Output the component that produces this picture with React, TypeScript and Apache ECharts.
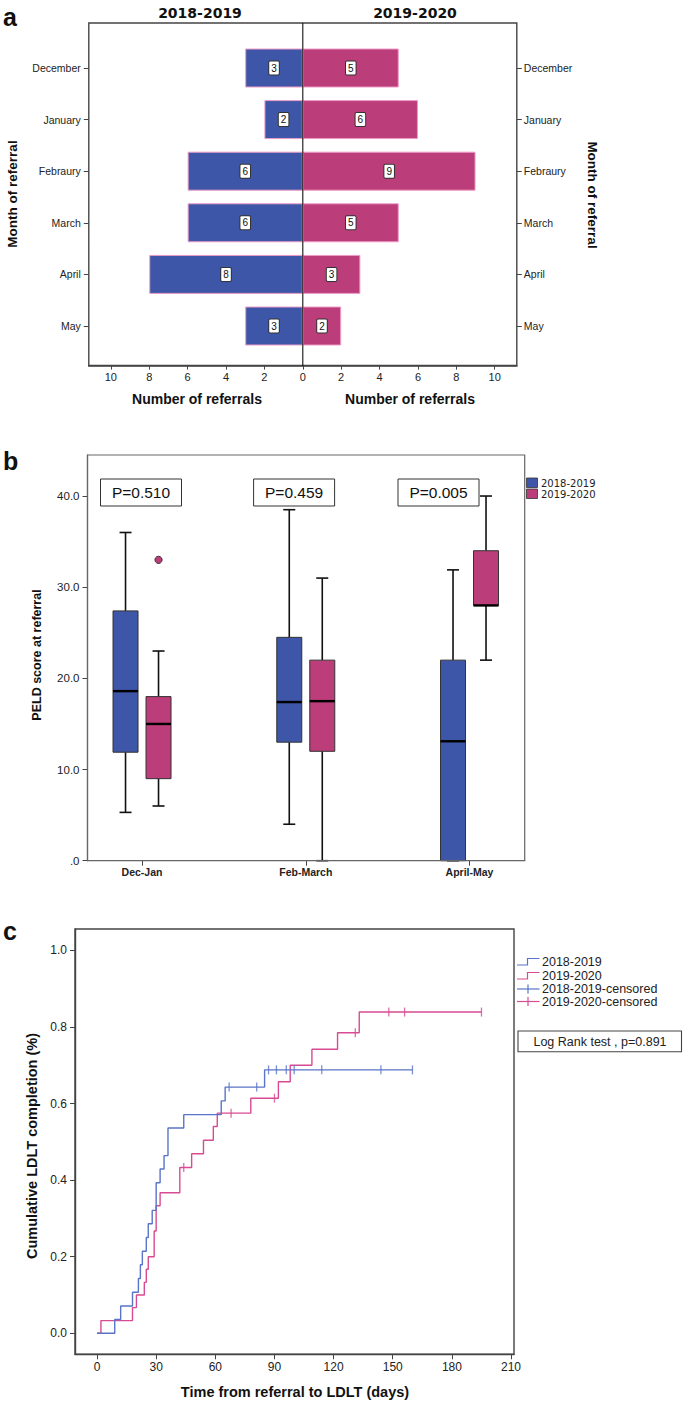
import React, { useEffect, useRef } from "react";
import * as echarts from "echarts";

// ---------- Panel a: referrals per month ----------
const months = ["December", "January", "Febraury", "March", "April", "May"];
const referrals2018 = [3, 2, 6, 6, 8, 3];
const referrals2019 = [5, 6, 9, 5, 3, 2];
const referralTicksLeft = [2, 4, 6, 8, 10];
const referralTicksRight = [0, 2, 4, 6, 8, 10];

// ---------- Panel b: PELD boxplots ----------
const periods = ["Dec-Jan", "Feb-March", "April-May"];
// [min, q1, median, q3, max]
const peld2018 = [
  [5.3, 11.9, 18.6, 27.4, 36.0],
  [4.0, 13.0, 17.4, 24.5, 38.5],
  [0.0, 0.0, 13.1, 22.0, 31.9],
];
const peld2019 = [
  [6.0, 9.0, 15.0, 18.0, 23.0],
  [0.0, 12.0, 17.5, 22.0, 31.0],
  [22.0, 28.0, 28.0, 34.0, 40.0],
];
const peldOutliers2019 = [[0, 33.0]];
const pValues = ["P=0.510", "P=0.459", "P=0.005"];
const peldTicks = [0, 10, 20, 30, 40];

// ---------- Panel c: Kaplan-Meier ----------
const blueEventDays = [9, 12, 18, 21, 22, 23, 25, 26, 28, 30, 32, 34, 36, 44, 63, 65, 85];
const blueEventLevels = [0.036, 0.071, 0.107, 0.143, 0.179, 0.214, 0.25, 0.286, 0.321, 0.393, 0.429, 0.464, 0.536, 0.571, 0.607, 0.643, 0.688];
const blueCensorDays = [67, 81, 87, 91, 96, 100, 114, 144, 160];
const pinkEventDays = [2, 18, 20, 24, 25, 26, 29, 30, 32, 42, 48, 54, 59, 61, 78, 92, 98, 109, 122, 133];
const pinkEventLevels = [0.033, 0.067, 0.1, 0.133, 0.167, 0.2, 0.267, 0.333, 0.367, 0.433, 0.469, 0.504, 0.54, 0.575, 0.614, 0.657, 0.7, 0.742, 0.785, 0.839];
const pinkCensorDays = [44, 68, 90, 131, 148, 156, 195];
const dayTicks = [0, 30, 60, 90, 120, 150, 180, 210];
const cumTicks = [0, 0.2, 0.4, 0.6, 0.8, 1.0];

const FONT = "'Liberation Sans', Arial, sans-serif";
const BLUE_A = "#3E56A7";
const PINK_A = "#BB3D79";
const BLUE_C = "#5A74C8";
const PINK_C = "#D84B92";

function kmSteps(days: number[], levels: number[], endDay: number) {
  const pts: number[][] = [[0, 0]];
  let prev = 0;
  days.forEach((d, i) => {
    pts.push([d, prev]);
    pts.push([d, levels[i]]);
    prev = levels[i];
  });
  pts.push([endDay, prev]);
  return pts;
}
function levelAt(days: number[], levels: number[], t: number) {
  let v = 0;
  days.forEach((d, i) => {
    if (d <= t) v = levels[i];
  });
  return v;
}

function boxRenderer(offsetPx: number, color: string) {
  return (params: any, api: any) => {
    const cat = api.value(0);
    const cx = api.coord([cat, 0])[0] + offsetPx;
    const yMin = api.coord([cat, api.value(1)])[1];
    const yQ1 = api.coord([cat, api.value(2)])[1];
    const yMed = api.coord([cat, api.value(3)])[1];
    const yQ3 = api.coord([cat, api.value(4)])[1];
    const yMax = api.coord([cat, api.value(5)])[1];
    const hw = 12.5;
    const cap = 6;
    const wStyle = { stroke: "#111", lineWidth: 1.6 };
    return {
      type: "group",
      children: [
        { type: "line", shape: { x1: cx, y1: yQ3, x2: cx, y2: yMax }, style: wStyle },
        { type: "line", shape: { x1: cx, y1: yQ1, x2: cx, y2: yMin }, style: wStyle },
        { type: "line", shape: { x1: cx - cap, y1: yMax, x2: cx + cap, y2: yMax }, style: wStyle },
        { type: "line", shape: { x1: cx - cap, y1: yMin, x2: cx + cap, y2: yMin }, style: wStyle },
        {
          type: "rect",
          shape: { x: cx - hw, y: yQ3, width: hw * 2, height: yQ1 - yQ3 },
          style: { fill: color, stroke: "#333", lineWidth: 1 },
        },
        { type: "line", shape: { x1: cx - hw, y1: yMed, x2: cx + hw, y2: yMed }, style: { stroke: "#000", lineWidth: 2.4 } },
      ],
    };
  };
}

function txt(x: number, y: number, text: string, size: number, opts: any = {}) {
  return {
    type: "text",
    x,
    y,
    rotation: opts.rotation || 0,
    style: {
      text,
      fontSize: size,
      fontWeight: opts.bold ? "bold" : "normal",
      fontFamily: opts.font || FONT,
      fill: opts.color || "#111",
      align: opts.align || "center",
      verticalAlign: "middle",
    },
  };
}

export default function App() {
  const ref = useRef<HTMLDivElement>(null);

  useEffect(() => {
    if (!ref.current) return;
    const chart = echarts.init(ref.current, undefined, { renderer: "svg" });

    const labelStyle = {
      show: true,
      position: "inside",
      formatter: "{c}",
      backgroundColor: "#fff",
      borderColor: "#333",
      borderWidth: 1,
      borderRadius: 1,
      padding: [2, 2, 1, 2],
      fontSize: 10,
      fontFamily: FONT,
      color: "#111",
    };

    const blueSteps = kmSteps(blueEventDays, blueEventLevels, blueCensorDays[blueCensorDays.length - 1]);
    const pinkSteps = kmSteps(pinkEventDays, pinkEventLevels, pinkCensorDays[pinkCensorDays.length - 1]);
    const blueCensor = blueCensorDays.map((d) => [d, levelAt(blueEventDays, blueEventLevels, d)]);
    const pinkCensor = pinkCensorDays.map((d) => [d, levelAt(pinkEventDays, pinkEventLevels, d)]);

    const frame = (x: number, y: number, w: number, h: number, color: string, lw: number) => ({
      type: "rect",
      shape: { x, y, width: w, height: h },
      style: { fill: "none", stroke: color, lineWidth: lw },
      z: 10,
    });

    const option: any = {
      animation: false,
      backgroundColor: "#fff",
      grid: [
        { left: 88.8, top: 42.2, width: 214, height: 309.6 },
        { left: 302.8, top: 42.2, width: 214, height: 309.6 },
        { left: 87.5, top: 455, width: 437.2, height: 405.7 },
        { left: 75, top: 929, width: 439, height: 425.3 },
      ],
      xAxis: [
        {
          gridIndex: 0,
          type: "value",
          min: 0,
          max: 11.15,
          inverse: true,
          position: "bottom",
          offset: 13.8,
          axisLine: { show: true, onZero: false, lineStyle: { color: "#444", width: 1.3 } },
          axisTick: { show: true, customValues: referralTicksLeft, length: 4, lineStyle: { color: "#444" } },
          axisLabel: { customValues: referralTicksLeft, fontSize: 11, fontFamily: FONT, color: "#222", margin: 6 },
          splitLine: { show: false },
        },
        {
          gridIndex: 1,
          type: "value",
          min: 0,
          max: 11.15,
          position: "bottom",
          offset: 13.8,
          axisLine: { show: true, onZero: false, lineStyle: { color: "#444", width: 1.3 } },
          axisTick: { show: true, customValues: referralTicksRight, length: 4, lineStyle: { color: "#444" } },
          axisLabel: { customValues: referralTicksRight, fontSize: 11, fontFamily: FONT, color: "#222", margin: 6 },
          splitLine: { show: false },
        },
        {
          gridIndex: 2,
          type: "value",
          min: -0.333,
          max: 2.337,
          axisLine: { show: true, onZero: false, lineStyle: { color: "#555", width: 1.2 } },
          axisTick: { show: true, customValues: [0, 1, 2], length: 5, lineStyle: { color: "#444" } },
          axisLabel: {
            customValues: [0, 1, 2],
            formatter: (v: number) => periods[Math.round(v)] || "",
            fontSize: 10.5,
            fontWeight: "bold",
            fontFamily: FONT,
            color: "#222",
            margin: 6,
          },
          splitLine: { show: false },
        },
        {
          gridIndex: 3,
          type: "value",
          min: -11.16,
          max: 211.5,
          axisLine: { show: true, onZero: false, lineStyle: { color: "#444", width: 1.4 } },
          axisTick: { show: true, customValues: dayTicks, length: 5, lineStyle: { color: "#444" } },
          axisLabel: { customValues: dayTicks, fontSize: 12, fontFamily: FONT, color: "#222", margin: 7 },
          splitLine: { show: false },
        },
      ],
      yAxis: [
        {
          gridIndex: 0,
          type: "category",
          data: months,
          inverse: true,
          position: "left",
          axisLine: { show: false, onZero: false },
          axisTick: { show: true, alignWithLabel: true, length: 5, lineStyle: { color: "#444" } },
          axisLabel: { fontSize: 10.5, fontFamily: FONT, color: "#222", margin: 8 },
        },
        {
          gridIndex: 1,
          type: "category",
          data: months,
          inverse: true,
          position: "right",
          axisLine: { show: false, onZero: false },
          axisTick: { show: true, alignWithLabel: true, length: 5, lineStyle: { color: "#444" } },
          axisLabel: { fontSize: 10.5, fontFamily: FONT, color: "#222", margin: 7 },
        },
        {
          gridIndex: 2,
          type: "value",
          min: 0,
          max: 44.5,
          axisLine: { show: true, onZero: false, lineStyle: { color: "#555", width: 1.2 } },
          axisTick: { show: true, customValues: peldTicks, length: 5, lineStyle: { color: "#444" } },
          axisLabel: {
            customValues: peldTicks,
            formatter: (v: number) => (v === 0 ? ".0" : v.toFixed(1)),
            fontSize: 11.5,
            fontFamily: FONT,
            color: "#222",
            margin: 8,
          },
          splitLine: { show: false },
        },
        {
          gridIndex: 3,
          type: "value",
          min: -0.055,
          max: 1.056,
          axisLine: { show: true, onZero: false, lineStyle: { color: "#444", width: 1.4 } },
          axisTick: { show: true, customValues: cumTicks, length: 5, lineStyle: { color: "#444" } },
          axisLabel: {
            customValues: cumTicks,
            formatter: (v: number) => v.toFixed(1),
            fontSize: 12,
            fontFamily: FONT,
            color: "#222",
            margin: 8,
          },
          splitLine: { show: false },
        },
      ],
      series: [
        {
          name: "2018-2019",
          type: "bar",
          xAxisIndex: 0,
          yAxisIndex: 0,
          data: referrals2018,
          barWidth: 39,
          itemStyle: { color: BLUE_A, borderColor: "#EE9CC6", borderWidth: 1 },
          label: labelStyle,
        },
        {
          name: "2019-2020",
          type: "bar",
          xAxisIndex: 1,
          yAxisIndex: 1,
          data: referrals2019,
          barWidth: 39,
          itemStyle: { color: PINK_A, borderColor: "#EE9CC6", borderWidth: 1 },
          label: labelStyle,
        },
        {
          name: "PELD 2018-2019",
          type: "custom",
          xAxisIndex: 2,
          yAxisIndex: 2,
          renderItem: boxRenderer(-16.5, BLUE_A),
          encode: { x: 0, y: [1, 2, 3, 4, 5] },
          data: peld2018.map((b, i) => [i, ...b]),
          z: 3,
        },
        {
          name: "PELD 2019-2020",
          type: "custom",
          xAxisIndex: 2,
          yAxisIndex: 2,
          renderItem: boxRenderer(16.5, PINK_A),
          encode: { x: 0, y: [1, 2, 3, 4, 5] },
          data: peld2019.map((b, i) => [i, ...b]),
          z: 3,
        },
        {
          name: "PELD outliers",
          type: "custom",
          xAxisIndex: 2,
          yAxisIndex: 2,
          renderItem: (params: any, api: any) => {
            const p = api.coord([api.value(0), api.value(1)]);
            return {
              type: "circle",
              shape: { cx: p[0] + 16.5, cy: p[1], r: 3.6 },
              style: { fill: PINK_A, stroke: "#333", lineWidth: 1 },
            };
          },
          encode: { x: 0, y: 1 },
          data: peldOutliers2019,
          z: 4,
        },
        {
          name: "KM 2018-2019",
          type: "line",
          xAxisIndex: 3,
          yAxisIndex: 3,
          data: blueSteps,
          showSymbol: false,
          symbol: "none",
          lineStyle: { color: BLUE_C, width: 1.4 },
          z: 4,
        },
        {
          name: "KM 2019-2020",
          type: "line",
          xAxisIndex: 3,
          yAxisIndex: 3,
          data: pinkSteps,
          showSymbol: false,
          symbol: "none",
          lineStyle: { color: PINK_C, width: 1.4 },
          z: 3,
        },
        {
          name: "2018-2019-censored",
          type: "scatter",
          xAxisIndex: 3,
          yAxisIndex: 3,
          data: blueCensor,
          symbol: "rect",
          symbolSize: [1.3, 9],
          itemStyle: { color: BLUE_C },
          z: 5,
        },
        {
          name: "2019-2020-censored",
          type: "scatter",
          xAxisIndex: 3,
          yAxisIndex: 3,
          data: pinkCensor,
          symbol: "rect",
          symbolSize: [1.3, 9],
          itemStyle: { color: PINK_C },
          z: 5,
        },
      ],
      graphic: [
        // Panel a
        frame(88.8, 23, 428, 343, "#444", 1.4),
        { type: "line", shape: { x1: 302.8, y1: 23, x2: 302.8, y2: 366 }, style: { stroke: "#111", lineWidth: 1.1 }, z: 11 },
        txt(3, 17, "a", 25, { bold: true, align: "left" }),
        txt(200, 13, "2018-2019", 14, { bold: true, font: "'DejaVu Sans', sans-serif" }),
        txt(415, 13, "2019-2020", 14, { bold: true, font: "'DejaVu Sans', sans-serif" }),
        txt(12, 194, "Month of referral", 13.5, { bold: true, rotation: Math.PI / 2 }),
        txt(592, 195, "Month of referral", 13.5, { bold: true, rotation: -Math.PI / 2 }),
        txt(197, 399, "Number of referrals", 14, { bold: true }),
        txt(410, 399, "Number of referrals", 14, { bold: true }),
        // Panel b
        frame(87.5, 455, 437.2, 405.7, "#666", 1.2),
        txt(3, 461, "b", 25, { bold: true, align: "left" }),
        ...pValues.flatMap((p, i) => {
          const xs = [100.5, 253.6, 398];
          return [
            {
              type: "rect",
              shape: { x: xs[i], y: 479, width: 81, height: 27 },
              style: { fill: "#fff", stroke: "#333", lineWidth: 1 },
              z: 12,
            },
            { ...txt(xs[i] + 40.5, 492.8, p, 15.5), z: 13 },
          ];
        }),
        {
          type: "rect",
          shape: { x: 526.5, y: 478, width: 11, height: 9.5 },
          style: { fill: BLUE_A, stroke: "#333", lineWidth: 0.8 },
        },
        {
          type: "rect",
          shape: { x: 526.5, y: 489, width: 11, height: 9.5 },
          style: { fill: PINK_A, stroke: "#333", lineWidth: 0.8 },
        },
        txt(541, 483, "2018-2019", 10, { align: "left", font: "'DejaVu Sans', sans-serif", color: "#222" }),
        txt(541, 494, "2019-2020", 10, { align: "left", font: "'DejaVu Sans', sans-serif", color: "#222" }),
        txt(37, 655, "PELD score at referral", 12.5, { bold: true, rotation: Math.PI / 2 }),
        // Panel c
        frame(75, 929, 439, 425.3, "#444", 1.4),
        txt(3, 931, "c", 25, { bold: true, align: "left" }),
        txt(31.5, 1146, "Cumulative LDLT completion (%)", 14.5, { bold: true, rotation: Math.PI / 2 }),
        txt(295, 1392, "Time from referral to LDLT (days)", 14.5, { bold: true }),
        {
          type: "polyline",
          shape: { points: [[517, 965], [527.5, 965], [527.5, 958.5], [539.5, 958.5]] },
          style: { stroke: BLUE_C, lineWidth: 1.2, fill: "none" },
        },
        {
          type: "polyline",
          shape: { points: [[517, 979], [527.5, 979], [527.5, 972.5], [539.5, 972.5]] },
          style: { stroke: PINK_C, lineWidth: 1.2, fill: "none" },
        },
        { type: "line", shape: { x1: 517, y1: 989, x2: 539.5, y2: 989 }, style: { stroke: BLUE_C, lineWidth: 1.2 } },
        { type: "line", shape: { x1: 528, y1: 984.5, x2: 528, y2: 993.5 }, style: { stroke: BLUE_C, lineWidth: 1.2 } },
        { type: "line", shape: { x1: 517, y1: 1001.5, x2: 539.5, y2: 1001.5 }, style: { stroke: PINK_C, lineWidth: 1.2 } },
        { type: "line", shape: { x1: 528, y1: 997, x2: 528, y2: 1006 }, style: { stroke: PINK_C, lineWidth: 1.2 } },
        txt(542, 962, "2018-2019", 12.5, { align: "left", color: "#222" }),
        txt(542, 975.5, "2019-2020", 12.5, { align: "left", color: "#222" }),
        txt(542, 989, "2018-2019-censored", 12.5, { align: "left", color: "#222" }),
        txt(542, 1002, "2019-2020-censored", 12.5, { align: "left", color: "#222" }),
        {
          type: "rect",
          shape: { x: 518, y: 1031, width: 163.5, height: 20.7 },
          style: { fill: "#fff", stroke: "#444", lineWidth: 1.1 },
        },
        txt(600, 1041.5, "Log Rank test , p=0.891", 12.5, { color: "#222" }),
      ],
    };

    chart.setOption(option);
    return () => chart.dispose();
  }, []);

  return (
    <div
      ref={ref}
      style={{ position: "absolute", left: 0, top: 0, width: 685, height: 1403, background: "#fff" }}
    />
  );
}
